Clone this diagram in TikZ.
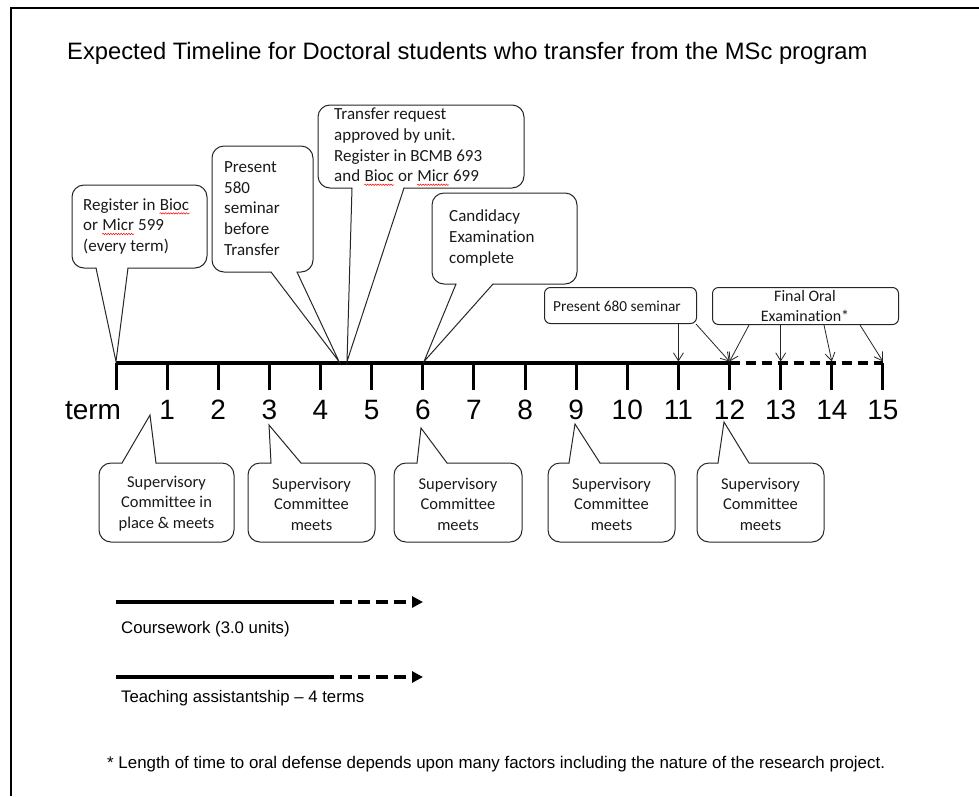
\documentclass[tikz,border=0pt]{standalone}
\usepackage{fontspec}
\setmainfont{Liberation Sans}
\newfontfamily\calfont[Ligatures={NoCommon}]{Carlito}
\usetikzlibrary{arrows.meta,decorations.pathmorphing}
\newcommand\spellwave[1]{\tikz[baseline=(w.base)]{\node[inner sep=0pt, anchor=base] (w) {#1};
  \draw[red, line width=0.5pt, decoration={snake, amplitude=0.7pt, segment length=2.6pt}, decorate]
    ([yshift=-3pt]w.base west) -- ([yshift=-3pt]w.base east);}}
\begin{document}
\begin{tikzpicture}[x=1pt,y=-1pt,
  cbox/.style={draw=black!85, line width=1pt, rounded corners=12pt, line cap=round},
  cptr/.style={draw=black!85, line width=1pt, line cap=round, line join=miter},
  ctext/.style={inner sep=0pt, font=\calfont\fontsize{17}{20.6}\selectfont, text=black!90},
  btext/.style={inner sep=0pt, align=center, font=\calfont\fontsize{16.5}{20.5}\selectfont, text=black!90},
  smallbox/.style={draw=black!85, line width=1pt, rounded corners=6pt, inner sep=0pt, anchor=north west},
  stext/.style={inner sep=0pt, text=black!90},
  arr/.style={draw=black!85, line width=0.8pt, -{Straight Barb[length=8pt,width=10pt]}},
  lab/.style={inner sep=0pt, anchor=base, font=\fontsize{28}{32}\selectfont},
  leg/.style={inner sep=0pt, anchor=west, font=\fontsize{16.75}{20}\selectfont}]
\useasboundingbox (0,0) rectangle (979,796);
% frame
\draw[line width=2.2pt] (11,796) -- (11,8) -- (979,8);
% title
\node[anchor=west, inner sep=0pt, font=\fontsize{23.75}{28}\selectfont] (title) at (67,53)
  {Expected Timeline for Doctoral students who transfer from the MSc program};
% tick coordinates
\foreach \i in {0,...,15} {
  \coordinate (t\i) at ({116+51.13*\i},363);
  \coordinate (u\i) at ({116+51.13*\i},361.5);
}
% axis
\draw[line width=3.5pt] (t0) -- (t12);
\draw[line width=3.5pt, dash pattern=on 10pt off 6pt] (t12) -- (t15);
\foreach \i in {0,...,15} \draw[line width=3pt] (t\i) -- ++(0,27);
% labels
\node[lab] (l0) at (93,419) {term};
\foreach \i in {1,...,15} \node[lab] (l\i) at ({116+51.13*\i},419) {\i};
% pointer tips
\coordinate (p1) at (116,361.5);
\coordinate (p2) at (339,361.5);
\coordinate (p3) at (347,361.5);
\coordinate (p4) at (424,361.5);
\coordinate (q1) at (150,415);
\coordinate (q2) at (269,425);
\coordinate (q3) at (421,428);
\coordinate (q4) at (575,424);
\coordinate (q5) at (724,422);
% callout 1
\draw[cbox] (96,268) -- (72,268) -- (72,185) -- (207,185) -- (207,268) -- (128,268);
\draw[cptr] (96,268) -- (p1) -- (128,268);
\node[ctext, anchor=west, align=left] (c1) at (83,226.5)
  {Register in \spellwave{Bioc}\\or \spellwave{Micr} 599\\(every term)};
% callout 2
\draw[cbox] (271,272) -- (212,272) -- (212,146) -- (313,146) -- (313,272) -- (297,272);
\draw[cptr] (271,272) -- (p2) -- (297,272);
\node[ctext, anchor=west, align=left] (c2) at (224,208.5)
  {Present\\580\\seminar\\before\\Transfer};
% callout 3
\draw[cbox] (352,188) -- (318,188) -- (318,105) -- (524,105) -- (524,188) -- (404,188);
\draw[cptr] (352,188) -- (p3) -- (404,188);
\node[ctext, anchor=west, align=left] (c3) at (334,147)
  {Transfer request\\approved by unit.\\Register in BCMB 693\\and \spellwave{Bioc} or \spellwave{Micr} 699};
% callout 4
\draw[cbox] (456,284) -- (432,284) -- (432,193) -- (577,193) -- (577,284) -- (493,284);
\draw[cptr] (456,284) -- (p4) -- (493,284);
\node[ctext, anchor=west, align=left] (c4) at (449,238)
  {Candidacy\\Examination\\complete};
% small boxes
\node[smallbox, minimum width=152pt, minimum height=36pt] (p680) at (544,287) {};
\node[stext, anchor=west, font=\calfont\fontsize{15.3}{19}\selectfont] (p680t) at (553,306) {Present 680 seminar};
\node[smallbox, minimum width=186pt, minimum height=37pt] (fo) at (712,287) {};
\node[stext, align=center, font=\calfont\fontsize{16}{20}\selectfont] (fot) at (805,305.5) {Final Oral\\Examination*};
\draw[arr] (p680.south -| u11) -- (u11);
\draw[arr] ([xshift=-1pt]p680.south east) -- (u12);
\draw[arr] ([xshift=37pt]fo.south west) -- (u12);
\draw[arr] (fo.south -| u13) -- (u13);
\draw[arr] ([xshift=112pt]fo.south west) -- (u14);
\draw[arr] ([xshift=148pt]fo.south west) -- (u15);
% bottom callouts
\draw[cbox] (156,463) -- (234,463) -- (234,542) -- (99,542) -- (99,463) -- (122,463);
\draw[cptr] (122,463) -- (q1) -- (156,463);
\node[btext] (s1) at (166.5,503.5) {Supervisory\\Committee in\\place \& meets};
\draw[cbox] (301,463) -- (375,463) -- (375,542) -- (248,542) -- (248,463) -- (271,463);
\draw[cptr] (271,463) -- (q2) -- (301,463);
\node[btext] (s2) at (311.5,504) {Supervisory\\Committee\\meets};
\draw[cbox] (447,463) -- (522,463) -- (522,542) -- (394,542) -- (394,463) -- (417,463);
\draw[cptr] (417,463) -- (q3) -- (447,463);
\node[btext] (s3) at (458,504) {Supervisory\\Committee\\meets};
\draw[cbox] (600,463) -- (675,463) -- (675,542) -- (548,542) -- (548,463) -- (569,463);
\draw[cptr] (569,463) -- (q4) -- (600,463);
\node[btext] (s4) at (611.5,504) {Supervisory\\Committee\\meets};
\draw[cbox] (749,463) -- (824,463) -- (824,542) -- (697,542) -- (697,463) -- (718,463);
\draw[cptr] (718,463) -- (q5) -- (749,463);
\node[btext] (s5) at (760.5,504) {Supervisory\\Committee\\meets};
% legend
\coordinate (a1s) at (116,602); \coordinate (a1m) at (322,602); \coordinate (a1e) at (423,602);
\coordinate (a2s) at (116,677); \coordinate (a2m) at (322,677); \coordinate (a2e) at (423,677);
\draw[line width=3.8pt] (a1s) -- (a1m);
\draw[line width=3.2pt, dash pattern=on 12pt off 6pt, -{Triangle[length=11pt,width=11pt]}] (a1m) -- (a1e);
\draw[line width=3.8pt] (a2s) -- (a2m);
\draw[line width=3.2pt, dash pattern=on 12pt off 6pt, -{Triangle[length=11pt,width=11pt]}] (a2m) -- (a2e);
\node[leg] (cw) at (121,629) {Coursework (3.0 units)};
\node[leg] (ta) at (121,698) {Teaching assistantship – 4 terms};
\node[leg, font=\fontsize{16.9}{20}\selectfont] (fn) at (107,764)
  {* Length of time to oral defense depends upon many factors including the nature of the research project.};
\end{tikzpicture}
\end{document}
